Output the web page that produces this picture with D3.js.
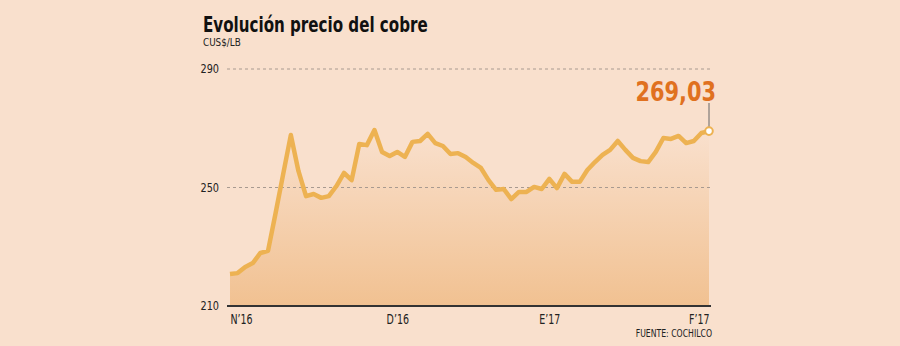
<!DOCTYPE html>
<html>
<head>
<meta charset="utf-8">
<script src="https://cdn.jsdelivr.net/npm/d3@7"></script>
<style>
  html, body { margin: 0; padding: 0; background: #f9e0cd; }
  svg { display: block; }
  text { font-family: "DejaVu Sans Condensed", "DejaVu Sans", sans-serif; }
</style>
</head>
<body>
<svg id="chart" width="900" height="346"></svg>
<script>
// Copper price, cUS$/lb, daily (Nov 2016 - early Feb 2017)
const prices = [
  220.8, 221.1, 223.2, 224.5, 227.9, 228.6, 241.4, 254.6, 267.7, 255.6,
  247.1, 247.8, 246.5, 247.1, 250.5, 254.9, 252.5, 264.7, 264.3, 269.4,
  262.0, 260.6, 262.0, 260.3, 265.4, 265.7, 268.1, 265.0, 264.0, 261.3,
  261.6, 260.3, 258.3, 256.6, 252.5, 249.2, 249.5, 246.1, 248.5, 248.5,
  250.2, 249.5, 252.9, 249.8, 254.6, 251.9, 251.9, 255.9, 258.6, 261.0,
  262.7, 265.7, 262.7, 260.0, 258.9, 258.6, 262.0, 266.7, 266.4, 267.4,
  265.0, 265.7, 268.4, 269.03
];
const xTickIndex = [0, 22, 42, 63];
const xTickLabels = ["N\u201916", "D\u201916", "E\u201917", "F\u201917"];
const yTicks = [210, 250, 290];
const title = "Evolución precio del cobre";
const unit = "CUS$/LB";
const source = "FUENTE: COCHILCO";
const lastLabel = "269,03";

const svg = d3.select("#chart");
const mLeft = 230, mRight = 709, mTop = 69, mBottom = 306;

// narrow the text horizontally (reference font is narrower than DejaVu)
function condense(sel, factor) {
  sel.each(function () {
    const w = this.getComputedTextLength();
    d3.select(this).attr("textLength", w * factor).attr("lengthAdjust", "spacingAndGlyphs");
  });
}

const x = d3.scaleLinear().domain([0, prices.length - 1]).range([mLeft, mRight]);
const y = d3.scaleLinear().domain([210, 290]).range([mBottom, mTop]);

// gradient
const defs = svg.append("defs");
const grad = defs.append("linearGradient").attr("id", "areaGrad")
  .attr("gradientUnits", "userSpaceOnUse")
  .attr("x1", 0).attr("y1", y(269)).attr("x2", 0).attr("y2", mBottom);
grad.append("stop").attr("offset", 0).attr("stop-color", "#f9e0cd");
grad.append("stop").attr("offset", 1).attr("stop-color", "#f1c191");

// title
svg.append("text").attr("x", 203).attr("y", 32)
  .attr("font-size", 21).attr("font-weight", "bold").attr("fill", "#111")
  .text(title).call(condense, 0.8);
svg.append("text").attr("x", 203).attr("y", 46)
  .attr("font-size", 11).attr("fill", "#222")
  .text(unit).call(condense, 0.89);

// area
const area = d3.area().x((d, i) => x(i)).y0(mBottom).y1(d => y(d));
svg.append("path").datum(prices).attr("d", area).attr("fill", "url(#areaGrad)");

// y axis labels
const yAxis = d3.axisLeft(y).tickValues(yTicks).tickSize(0).tickPadding(0);
const gy = svg.append("g").attr("transform", `translate(219,0)`).call(yAxis);
gy.select(".domain").remove();
gy.selectAll("text").attr("font-size", 12).attr("fill", "#222")
  .attr("font-family", "DejaVu Sans Condensed, DejaVu Sans, sans-serif")
  .call(condense, 0.9);

// grid
svg.append("g").selectAll("line").data(yTicks.filter(t => t !== 210)).join("line")
  .attr("x1", 227).attr("x2", 711)
  .attr("y1", d => y(d)).attr("y2", d => y(d))
  .attr("stroke", "#a89a90").attr("stroke-width", 1).attr("stroke-dasharray", "3,3");

// line
const line = d3.line().x((d, i) => x(i)).y(d => y(d));
svg.append("path").datum(prices).attr("d", line)
  .attr("fill", "none").attr("stroke", "#edb252").attr("stroke-width", 4.5)
  .attr("stroke-linejoin", "round").attr("stroke-linecap", "butt");

// x axis
const xAxis = d3.axisBottom(x).tickValues(xTickIndex)
  .tickFormat((d, i) => xTickLabels[i]).tickSize(0).tickPadding(8);
const gx = svg.append("g").attr("transform", `translate(0,${mBottom})`).call(xAxis);
gx.select(".domain").attr("d", `M227,0H711`).attr("stroke", "#333").attr("stroke-width", 2);
gx.selectAll("text").attr("font-size", 13.5).attr("fill", "#222")
  .attr("font-family", "DejaVu Sans Condensed, DejaVu Sans, sans-serif")
  .attr("text-anchor", (d, i) => i === 0 ? "start" : (i === xTickIndex.length - 1 ? "end" : "middle"))
  .call(condense, 0.78);

// source
svg.append("text").attr("x", 712).attr("y", 337).attr("text-anchor", "end")
  .attr("font-size", 10).attr("fill", "#222").text(source).call(condense, 0.86);

// last point annotation
const lx = x(prices.length - 1), ly = y(prices[prices.length - 1]);
svg.append("line").attr("x1", lx).attr("x2", lx).attr("y1", 103).attr("y2", ly - 4)
  .attr("stroke", "#666").attr("stroke-width", 1);
svg.append("circle").attr("cx", lx).attr("cy", ly).attr("r", 3.8)
  .attr("fill", "#fff").attr("stroke", "#edb252").attr("stroke-width", 2);
svg.append("text").attr("x", 716).attr("y", 101).attr("text-anchor", "end")
  .attr("font-size", 27).attr("font-weight", "bold").attr("fill", "#e0711f")
  .text(lastLabel).call(condense, 0.86);
</script>
</body>
</html>
